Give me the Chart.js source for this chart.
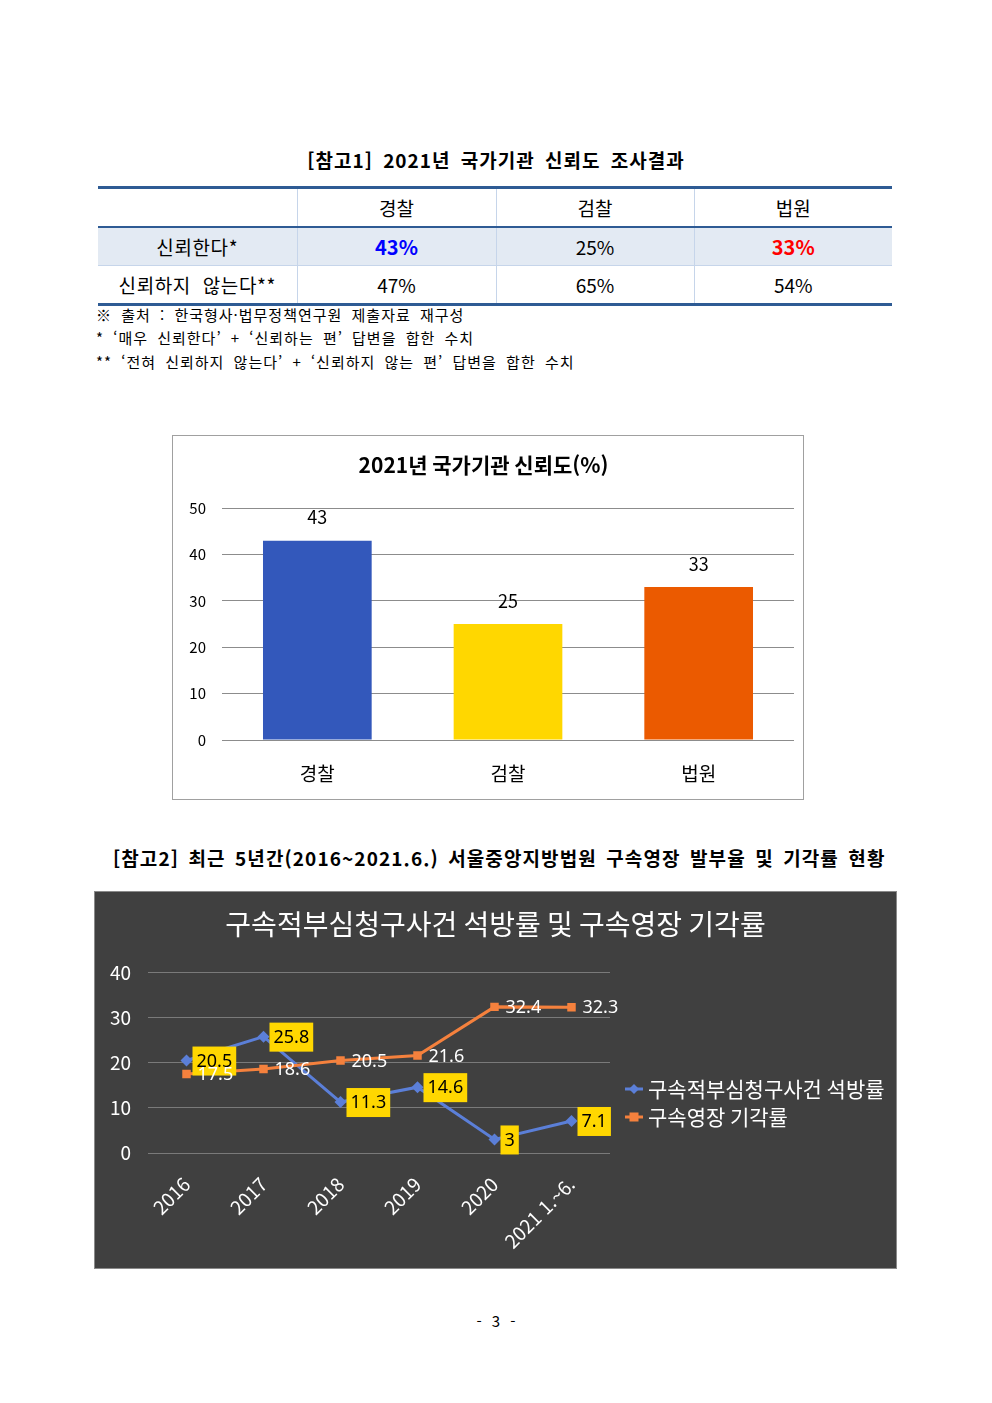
<!DOCTYPE html>
<html lang="ko">
<head>
<meta charset="utf-8">
<script src="https://cdn.jsdelivr.net/npm/chart.js@4.4.0/dist/chart.umd.min.js"></script>
<style>
  html,body{margin:0;padding:0;background:#fff;}
  body{width:992px;height:1403px;position:relative;overflow:hidden;font-family:"Noto Sans CJK KR","Noto Sans",sans-serif;color:#000;}
  .abs{position:absolute;}
  #t1{left:0;width:992px;top:146px;text-align:center;font-size:19px;font-weight:700;letter-spacing:1px;word-spacing:4px;}
  #tbl{left:98px;top:186px;border-collapse:collapse;table-layout:fixed;}
  #tbl td{height:37px;padding:0;text-align:center;font-size:19px;border-left:1px solid #c6d5ea;border-right:1px solid #c6d5ea;}
  #tbl tr:first-child td{border-top:3px solid #2e5b94;border-bottom:2px solid #2e5b94;}
  #tbl tr:nth-child(2) td{background:#e3eaf3;border-bottom:1px solid #c6d5ea;}
  #tbl tr:last-child td{border-bottom:3px solid #2e5b94;}
  #tbl td:first-child{border-left:none;letter-spacing:0.6px;}
  #tbl td:last-child{border-right:none;}
  .blue{color:#0000ff;font-weight:700;font-size:20px !important;}
  .red{color:#ff0000;font-weight:700;font-size:20px !important;}
  .note{left:96px;font-size:15px;white-space:pre;letter-spacing:1px;word-spacing:4px;}
  #box1{left:172px;top:435px;width:630px;height:363px;border:1px solid #a0a0a0;}
  #t2{left:113px;top:844px;font-size:19px;font-weight:700;white-space:pre;letter-spacing:1.1px;word-spacing:3px;}
  #box2{left:95px;top:892px;width:801px;height:376px;background:#404040;outline:1px solid #8a8a8a;}
  #pg{left:0;width:992px;top:1310px;text-align:center;font-size:15px;word-spacing:6px;}
</style>
</head>
<body>
<div id="t1" class="abs">[참고1] 2021년 국가기관 신뢰도 조사결과</div>
<table id="tbl" class="abs">
  <colgroup><col style="width:199px"><col style="width:199px"><col style="width:198px"><col style="width:198px"></colgroup>
  <tr><td></td><td>경찰</td><td>검찰</td><td>법원</td></tr>
  <tr><td>신뢰한다*</td><td class="blue">43%</td><td>25%</td><td class="red">33%</td></tr>
  <tr><td>신뢰하지 &nbsp;않는다**</td><td>47%</td><td>65%</td><td>54%</td></tr>
</table>
<div class="abs note" style="top:304px">※ 출처 : 한국형사·법무정책연구원 제출자료 재구성</div>
<div class="abs note" style="top:327px">* ‘매우 신뢰한다’ + ‘신뢰하는 편’ 답변을 합한 수치</div>
<div class="abs note" style="top:351px">** ‘전혀 신뢰하지 않는다’ + ‘신뢰하지 않는 편’ 답변을 합한 수치</div>

<div id="box1" class="abs"><canvas id="c1" width="630" height="363"></canvas></div>

<div id="t2" class="abs">[참고2] 최근 5년간(2016~2021.6.) 서울중앙지방법원 구속영장 발부율 및 기각률 현황</div>

<div id="box2" class="abs"><canvas id="c2" width="801" height="376"></canvas></div>

<div id="pg" class="abs">- 3 -</div>

<script>
// ---- Chart 1 data ----
const trustCategories = ['경찰', '검찰', '법원'];
const trustValues = [43, 25, 33];
const trustColors = ['#3358bb', '#ffd700', '#eb5a00'];
const trustTitle = '2021년 국가기관 신뢰도(%)';

// ---- Chart 2 data ----
const periodLabels = ['2016', '2017', '2018', '2019', '2020', '2021 1.~6.'];
const releaseRate = [20.5, 25.8, 11.3, 14.6, 3, 7.1];
const dismissalRate = [17.5, 18.6, 20.5, 21.6, 32.4, 32.3];
const seriesNames = ['구속적부심청구사건 석방률', '구속영장 기각률'];
const chart2Title = '구속적부심청구사건 석방률 및 구속영장 기각률';

const KR = '"Noto Sans CJK KR", "Noto Sans", sans-serif';

const barLabelPlugin = {
  id: 'barLabels',
  afterDatasetsDraw(chart) {
    const ctx = chart.ctx;
    const meta = chart.getDatasetMeta(0);
    ctx.save();
    ctx.font = '18px ' + KR;
    ctx.fillStyle = '#000';
    ctx.textAlign = 'center';
    ctx.textBaseline = 'middle';
    meta.data.forEach((bar, i) => {
      ctx.fillText(String(chart.data.datasets[0].data[i]), bar.x, bar.y - 23);
    });
    ctx.restore();
  }
};

new Chart(document.getElementById('c1'), {
  type: 'bar',
  data: {
    labels: trustCategories,
    datasets: [{ data: trustValues, backgroundColor: trustColors, barPercentage: 0.57, categoryPercentage: 1 }]
  },
  options: {
    responsive: false, animation: false, devicePixelRatio: 1,
    layout: { padding: { left: 0, right: 9, top: 0, bottom: 0 } },
    plugins: {
      legend: { display: false }, tooltip: { enabled: false },
      title: { display: true, text: trustTitle, color: '#000', font: { family: KR, size: 21, weight: 'bold' }, padding: { top: 16, bottom: 31 } }
    },
    scales: {
      x: {
        grid: { display: false }, border: { display: false },
        ticks: { color: '#000', font: { family: KR, size: 19 }, padding: 14 },
        afterFit(s) { s.height = 59; }
      },
      y: {
        min: 0, max: 50,
        grid: { color: '#8c8c8c', drawTicks: false }, border: { display: false },
        ticks: { stepSize: 10, color: '#000', font: { family: KR, size: 15 }, padding: 16 },
        afterFit(s) { s.width = 49; }
      }
    }
  },
  plugins: [barLabelPlugin]
});

// ---- Chart 2 ----
const pointLabelPlugin = {
  id: 'pointLabels',
  afterDatasetsDraw(chart) {
    const ctx = chart.ctx;
    ctx.save();
    ctx.font = '18px "Noto Sans", sans-serif';
    ctx.textBaseline = 'middle';
    ctx.textAlign = 'left';
    chart.data.datasets.forEach((ds, i) => {
      const meta = chart.getDatasetMeta(i);
      meta.data.forEach((pt, j) => {
        const txt = String(ds.data[j]);
        const w = ctx.measureText(txt).width;
        if (ds.labelBox) {
          ctx.fillStyle = '#ffd700';
          ctx.fillRect(pt.x + 6, pt.y - 14, w + 8, 29);
          ctx.fillStyle = '#000';
          ctx.fillText(txt, pt.x + 10, pt.y + 1);
        } else {
          ctx.fillStyle = '#fff';
          ctx.fillText(txt, pt.x + 11, pt.y + 1);
        }
      });
    });
    ctx.restore();
  }
};

const legendPlugin = {
  id: 'sideLegend',
  afterDraw(chart) {
    const ctx = chart.ctx;
    const a = chart.chartArea;
    ctx.save();
    chart.data.datasets.forEach((ds, i) => {
      const y = a.bottom - 64 + i * 28;
      const x0 = a.right + 15;
      ctx.strokeStyle = ds.borderColor;
      ctx.lineWidth = 3;
      ctx.beginPath(); ctx.moveTo(x0, y); ctx.lineTo(x0 + 18, y); ctx.stroke();
      ctx.fillStyle = ds.borderColor;
      const cx = x0 + 9;
      if (ds.pointStyle === 'rectRot') {
        ctx.beginPath(); ctx.moveTo(cx, y - 5); ctx.lineTo(cx + 5, y); ctx.lineTo(cx, y + 5); ctx.lineTo(cx - 5, y); ctx.closePath(); ctx.fill();
      } else {
        ctx.fillRect(cx - 4.5, y - 4.5, 9, 9);
      }
      ctx.fillStyle = '#fff';
      ctx.font = '21px ' + KR;
      ctx.textBaseline = 'middle';
      ctx.textAlign = 'left';
      ctx.fillText(ds.label, x0 + 23, y);
    });
    ctx.restore();
  }
};

new Chart(document.getElementById('c2'), {
  type: 'line',
  data: {
    labels: periodLabels,
    datasets: [
      { label: seriesNames[0], data: releaseRate, borderColor: '#5b7fd8', backgroundColor: '#5b7fd8', borderWidth: 3,
        pointStyle: 'rectRot', pointRadius: 6, pointBorderWidth: 0, tension: 0, labelBox: true, order: 1 },
      { label: seriesNames[1], data: dismissalRate, borderColor: '#f5813d', backgroundColor: '#f5813d', borderWidth: 3,
        pointStyle: 'rect', pointRadius: 6, pointBorderWidth: 0, tension: 0, labelBox: false, order: 0 }
    ]
  },
  options: {
    responsive: false, animation: false, devicePixelRatio: 1,
    layout: { padding: 0 },
    plugins: {
      legend: { display: false }, tooltip: { enabled: false },
      title: { display: true, text: chart2Title, color: '#fff', font: { family: KR, size: 28, weight: 'normal' }, padding: { top: 16, bottom: 31 } }
    },
    scales: {
      x: {
        offset: true,
        grid: { display: false }, border: { display: false },
        ticks: { color: '#fff', font: { family: KR, size: 19 }, minRotation: 45, maxRotation: 45, padding: 12 },
        afterFit(s) { s.height = 115; }
      },
      y: {
        min: 0, max: 40,
        grid: { color: '#7a7a7a', drawTicks: false }, border: { display: false },
        ticks: { stepSize: 10, color: '#fff', font: { family: KR, size: 19 }, padding: 17 },
        afterFit(s) { s.width = 53; }
      },
      legendSpace: {
        type: 'linear', position: 'right', display: true,
        grid: { display: false }, border: { display: false },
        ticks: { display: false },
        afterFit(s) { s.width = 286; }
      }
    }
  },
  plugins: [pointLabelPlugin, legendPlugin]
});
</script>
</body>
</html>
